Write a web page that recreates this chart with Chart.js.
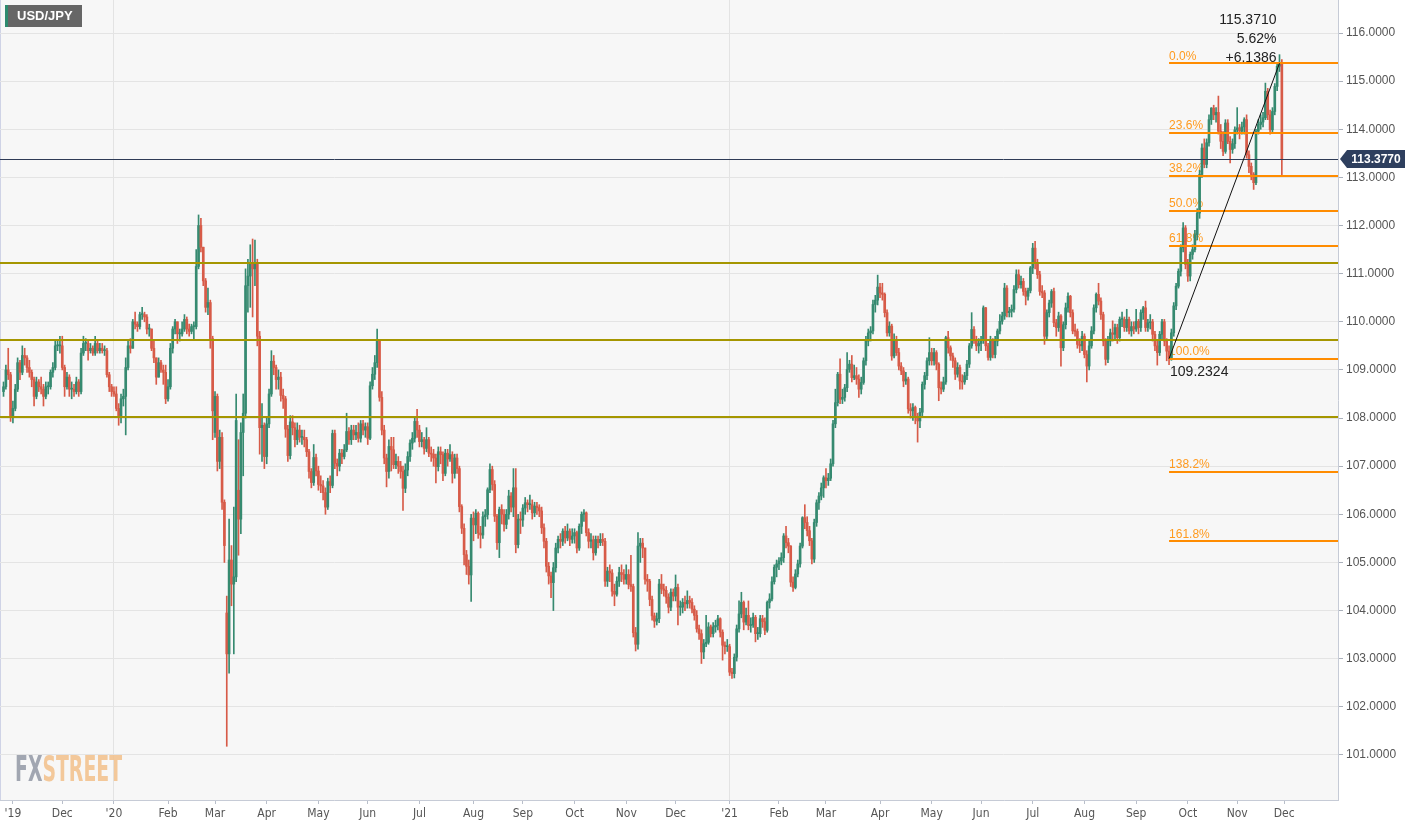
<!DOCTYPE html>
<html>
<head>
<meta charset="utf-8">
<title>USD/JPY</title>
<script src="https://cdn.jsdelivr.net/npm/chart.js@4.4.1/dist/chart.umd.min.js"></script>
<style>
  html, body { margin: 0; padding: 0; background: #fff; }
  #wrap { width: 1414px; height: 826px; }
</style>
</head>
<body>
<div id="wrap"><canvas id="myChart" width="1414" height="826"></canvas></div>
<script>
// daily candles, one per weekday, Oct 28 2019 .. Nov 26 2021
const closes = [
  108.65, 109.0, 108.9, 108.05, // Oct 19
  108.2, 108.6, 109.15, 108.95, 109.3, 109.25, 109.05, 108.95, 108.8, 108.45, 108.75, 108.65, 108.6, 108.45, 108.65, 108.65, 108.95, 109.05, 109.5, 109.5, 109.5,
  109.05, 108.65, 108.85, 108.6, 108.6, 108.55, 108.75, 108.55, 109.35, 109.55, 109.55, 109.4, 109.45, 109.35, 109.55, 109.4, 109.45, 109.4, 109.4, 108.9, 108.65, 108.55,
  108.5, 108.2, 108.05, 108.4, 108.45, 109.05, 109.5, 109.45, 110.0, 109.95, 109.9, 110.15, 110.15, 110.1, 109.85, 109.85, 109.45, 109.25, 108.85, 109.15, 109.0, 108.95, 108.4,
  108.65, 109.45, 109.85, 110.0, 109.75, 109.75, 109.85, 110.05, 109.85, 109.8, 109.9, 109.9, 111.15, 112.0, 111.55, 110.85, 110.3, 110.4, 109.65, 108.15,
  108.45, 107.1, 107.6, 106.25, 105.35, 103.1, 105.05, 104.55, 104.7, 107.95, 105.9, 107.7, 108.1, 110.75, 110.95, 111.2, 111.1, 111.2, 109.7, 107.8, 107.85, 107.2,
  107.88, 108.5, 109.18, 109.05, 108.8, 108.85, 108.47, 108.4, 107.77, 107.22, 107.92, 107.8, 107.55, 107.75, 107.6, 107.6, 107.55, 107.3, 106.89, 106.66, 107.18, 106.9,
  106.62, 106.59, 106.45, 106.15, 106.68, 106.6, 107.68, 107.06, 107.0, 107.27, 107.2, 107.34, 107.72, 107.55, 107.75, 107.65, 107.7, 107.58, 107.88, 107.75, 107.82,
  107.58, 108.67, 108.91, 109.15, 109.6, 108.43, 107.75, 107.17, 106.89, 107.41, 107.34, 107.03, 107.1, 107.0, 106.89, 106.54, 106.92, 107.2, 107.48, 107.58, 107.93, 107.75,
  107.51, 107.55, 107.37, 107.55, 107.27, 107.25, 107.17, 106.99, 107.3, 107.24, 106.85, 107.27, 107.15, 107.24, 106.85, 107.17, 106.95, 106.16, 105.71, 105.16, 104.92, 104.74, 105.92,
  105.78, 106.02, 105.61, 105.57, 105.95, 105.99, 106.51, 106.93, 106.62, 105.96, 105.41, 106.1, 106.0, 105.79, 106.0, 106.38, 106.15, 106.55, 105.37, 105.9, 105.88,
  106.13, 106.24, 106.2, 106.2, 106.03, 106.17, 106.14, 106.07, 105.72, 105.44, 104.92, 104.72, 104.58, 104.89, 105.3, 105.48, 105.44, 105.65, 105.51, 105.65, 105.48, 105.55,
  105.62, 105.3, 105.75, 106.0, 106.03, 105.62, 105.44, 105.47, 105.2, 105.48, 105.41, 105.48, 105.44, 104.61, 104.82, 104.78, 104.4, 104.34, 104.61, 104.79, 104.75, 104.65,
  104.75, 104.54, 104.5, 103.54, 103.3, 105.34, 105.4, 105.3, 104.65, 104.61, 104.23, 103.89, 103.78, 103.83, 104.55, 104.45, 104.42, 104.28, 104.07, 104.38, 104.3,
  104.48, 104.07, 104.07, 104.17, 104.14, 104.21, 104.17, 104.03, 103.9, 103.62, 103.52, 103.14, 103.31, 103.34, 103.66, 103.52, 103.66, 103.69, 103.83, 103.55, 103.28, 103.25, 103.25,
  102.72, 102.69, 103.03, 103.62, 103.93, 104.17, 103.76, 103.9, 103.69, 103.7, 103.86, 103.52, 103.52, 103.83, 103.77, 103.59, 104.17, 104.24, 104.6, 104.9, 104.97,
  105.03, 105.1, 105.55, 105.41, 105.34, 104.59, 104.48, 104.76, 104.97, 105.34, 105.93, 105.83, 105.66, 105.45, 105.07, 105.83, 106.24, 106.38, 106.55, 106.76,
  106.7, 106.75, 107.05, 107.88, 108.32, 108.91, 108.39, 108.43, 108.63, 109.01, 109.12, 108.84, 108.88, 108.81, 108.6, 108.74, 109.19, 109.6, 109.77, 109.81, 110.36, 110.45, 110.72,
  110.6, 110.57, 110.19, 109.77, 109.91, 109.29, 109.63, 109.36, 109.08, 108.98, 108.77, 108.81, 108.19, 108.15, 108.22, 108.01, 107.94, 108.12, 108.7, 108.88, 109.19, 109.36,
  109.19, 109.36, 109.12, 108.63, 108.6, 108.75, 109.67, 109.46, 109.29, 109.19, 108.91, 109.05, 108.77, 108.75, 108.88, 109.12, 109.5, 109.84, 109.63, 109.5, 109.55,
  109.63, 110.29, 109.5, 109.26, 109.6, 109.32, 109.6, 109.81, 110.01, 110.12, 110.7, 110.19, 110.22, 110.26, 110.67, 110.98, 110.77, 110.84, 110.63, 110.53, 110.65, 111.12,
  111.53, 111.22, 110.98, 110.63, 110.6, 109.7, 110.19, 110.39, 110.63, 109.98, 109.88, 110.12, 109.46, 109.94, 110.29, 110.53, 110.19, 109.81, 109.8, 109.53, 109.5, 109.7,
  109.32, 109.08, 109.5, 109.81, 110.29, 110.57, 110.43, 110.15, 109.6, 109.22, 109.6, 109.77, 109.74, 109.88, 109.67, 110.05, 110.05, 109.88, 110.05, 109.81, 109.9, 109.85,
  110.01, 109.88, 110.19, 110.29, 109.88, 109.98, 110.0, 109.74, 109.5, 109.36, 109.74, 110.0, 109.6, 109.39, 109.25, 109.77, 110.33, 110.74, 111.05, 111.54, 111.95, 111.19,
  110.95, 111.4, 111.5, 111.81, 112.26, 113.06, 113.61, 113.27, 113.72, 114.2, 114.44, 114.3, 114.35, 113.96, 113.75, 113.54, 114.13, 113.75, 113.58, 113.7, 113.99,
  114.03, 113.96, 114.05, 114.2, 113.47, 113.23, 113.06, 112.89, 113.96, 114.1, 114.15, 114.24, 114.79, 114.3, 113.99, 114.37, 114.89, 115.31, 115.37, 113.377
];
const highs = [
  108.75, 109.1, 109.45, 108.95,
  108.35, 108.7, 109.25, 109.2, 109.5, 109.45, 109.3, 109.2, 109.0, 108.85, 108.85, 108.8, 108.85, 108.7, 108.75, 108.75, 109.0, 109.15, 109.6, 109.6, 109.7,
  109.7, 109.1, 108.95, 108.9, 108.75, 108.7, 108.85, 108.8, 109.45, 109.7, 109.65, 109.6, 109.55, 109.5, 109.7, 109.6, 109.55, 109.55, 109.5, 109.45, 108.95, 108.7,
  108.65, 108.65, 108.3, 108.5, 108.6, 109.25, 109.6, 109.65, 110.05, 110.2, 110.0, 110.2, 110.3, 110.2, 110.15, 109.95, 109.85, 109.6, 109.2, 109.25, 109.2, 109.1, 109.1,
  108.8, 109.55, 109.9, 110.05, 110.0, 109.85, 110.0, 110.15, 110.1, 109.95, 109.95, 110.0, 111.5, 112.22, 112.15, 111.5, 110.9, 110.7, 110.45, 109.7,
  108.55, 108.5, 107.75, 107.7, 106.3, 104.3, 105.9, 105.35, 106.15, 108.5, 107.55, 107.9, 108.5, 111.1, 111.3, 111.6, 111.72, 111.7, 111.3, 109.8, 108.3, 107.9,
  108.0, 108.6, 109.4, 109.3, 109.1, 109.0, 108.95, 108.6, 108.45, 107.85, 108.05, 108.05, 107.9, 107.9, 107.85, 107.75, 107.75, 107.6, 107.35, 106.95, 107.45, 107.25,
  107.0, 106.8, 106.7, 106.55, 106.75, 106.8, 107.75, 107.75, 107.15, 107.35, 107.35, 107.45, 108.1, 107.8, 107.85, 107.85, 107.85, 107.9, 107.95, 107.95, 107.9,
  107.9, 108.75, 109.05, 109.3, 109.85, 109.6, 108.55, 107.85, 107.25, 107.55, 107.6, 107.6, 107.25, 107.2, 107.1, 107.0, 107.05, 107.3, 107.55, 107.7, 108.0, 108.18,
  107.85, 107.7, 107.6, 107.8, 107.6, 107.4, 107.35, 107.25, 107.4, 107.4, 107.3, 107.35, 107.35, 107.45, 107.3, 107.25, 107.25, 107.0, 106.2, 105.8, 105.25, 105.05, 106.0,
  106.05, 106.1, 106.05, 105.75, 106.05, 106.1, 106.55, 107.05, 107.0, 106.7, 106.0, 106.15, 106.2, 106.1, 106.1, 106.5, 106.45, 106.95, 106.95, 106.0, 106.05,
  106.2, 106.35, 106.3, 106.4, 106.3, 106.25, 106.25, 106.2, 106.15, 105.8, 105.5, 105.0, 104.8, 105.0, 105.4, 105.55, 105.6, 105.7, 105.75, 105.8, 105.7, 105.7,
  105.7, 105.65, 105.8, 106.05, 106.1, 106.05, 105.7, 105.6, 105.55, 105.55, 105.55, 105.6, 105.6, 105.5, 104.9, 104.95, 104.85, 104.55, 104.7, 104.9, 104.95, 104.85,
  104.95, 104.85, 105.15, 104.55, 103.65, 105.62, 105.5, 105.5, 105.3, 104.75, 104.65, 104.3, 103.95, 103.95, 104.65, 104.75, 104.55, 104.5, 104.35, 104.45, 104.45,
  104.74, 104.55, 104.2, 104.25, 104.3, 104.41, 104.3, 104.25, 104.1, 104.0, 103.7, 103.6, 103.4, 103.9, 103.75, 103.7, 103.75, 103.8, 103.9, 103.85, 103.6, 103.35, 103.4,
  103.3, 102.8, 103.1, 103.7, 104.2, 104.38, 104.2, 104.05, 104.2, 103.85, 103.95, 103.9, 103.65, 103.9, 103.9, 103.85, 104.2, 104.35, 104.7, 104.95, 105.05,
  105.1, 105.2, 105.6, 105.75, 105.5, 105.35, 104.7, 104.85, 105.05, 105.4, 105.95, 106.2, 105.95, 105.75, 105.5, 105.9, 106.3, 106.45, 106.65, 106.8,
  106.95, 106.85, 107.15, 107.95, 108.6, 108.95, 109.23, 108.6, 108.7, 109.36, 109.2, 109.3, 109.1, 109.05, 108.9, 108.85, 109.25, 109.7, 109.85, 109.9, 110.45, 110.55, 110.97,
  110.8, 110.8, 110.6, 110.25, 110.0, 109.95, 109.75, 109.7, 109.45, 109.15, 109.05, 108.95, 108.85, 108.3, 108.3, 108.25, 108.1, 108.2, 108.75, 108.95, 109.25, 109.67,
  109.45, 109.45, 109.4, 109.15, 108.75, 108.85, 109.7, 109.8, 109.5, 109.35, 109.25, 109.15, 109.1, 108.9, 108.95, 109.2, 109.55, 110.19, 109.9, 109.7, 109.65,
  109.7, 110.33, 110.3, 109.55, 109.7, 109.65, 109.7, 109.85, 110.15, 110.2, 110.8, 110.75, 110.3, 110.35, 110.75, 111.08, 111.08, 110.95, 110.9, 110.7, 110.7, 111.15,
  111.63, 111.67, 111.3, 111.05, 110.75, 110.65, 110.25, 110.45, 110.67, 110.7, 110.05, 110.2, 110.15, 110.0, 110.39, 110.6, 110.55, 110.25, 109.95, 109.85, 109.65, 109.8,
  109.75, 109.4, 109.6, 109.9, 110.35, 110.6, 110.8, 110.5, 110.2, 109.65, 109.7, 109.85, 110.02, 109.95, 109.95, 110.1, 110.2, 110.1, 110.26, 110.1, 110.0, 110.0,
  110.26, 110.05, 110.25, 110.32, 110.43, 110.05, 110.15, 110.05, 109.8, 109.6, 109.8, 110.05, 110.05, 109.65, 109.5, 109.85, 110.4, 110.8, 111.1, 111.6, 112.06, 112.0,
  111.3, 111.45, 111.6, 111.9, 112.35, 113.15, 113.7, 113.8, 113.8, 114.3, 114.45, 114.5, 114.45, 114.69, 114.1, 113.95, 114.2, 114.2, 113.85, 113.8, 114.05,
  114.45, 114.1, 114.15, 114.24, 114.3, 113.55, 113.3, 113.1, 114.0, 114.2, 114.3, 114.35, 114.96, 114.85, 114.4, 114.45, 114.95, 115.35, 115.55, 115.45
];
const lows = [
  108.45, 108.6, 108.8, 107.93,
  107.9, 108.15, 108.55, 108.8, 108.9, 109.1, 108.95, 108.85, 108.65, 108.25, 108.4, 108.55, 108.5, 108.25, 108.4, 108.5, 108.6, 108.85, 109.0, 109.4, 109.35,
  109.0, 108.45, 108.6, 108.45, 108.4, 108.45, 108.5, 108.45, 108.5, 109.3, 109.4, 109.2, 109.35, 109.3, 109.3, 109.35, 109.35, 109.35, 109.3, 108.85, 108.55, 108.45,
  108.45, 108.15, 107.85, 107.9, 108.25, 107.65, 109.0, 109.35, 109.45, 109.85, 109.8, 109.85, 110.05, 110.0, 109.75, 109.7, 109.4, 109.15, 108.7, 108.85, 108.95, 108.7, 108.3,
  108.35, 108.6, 109.35, 109.75, 109.55, 109.6, 109.7, 109.8, 109.75, 109.7, 109.75, 109.65, 109.85, 111.1, 111.45, 110.75, 110.2, 110.15, 109.45, 107.55,
  107.6, 106.9, 106.95, 106.1, 105.0, 101.18, 102.7, 104.1, 103.1, 104.6, 105.15, 105.6, 106.8, 108.0, 110.2, 110.3, 110.1, 110.75, 109.5, 107.25, 107.1, 106.95,
  107.05, 107.8, 108.45, 108.9, 108.6, 108.6, 108.35, 108.2, 107.6, 107.1, 107.15, 107.65, 107.4, 107.45, 107.5, 107.45, 107.4, 107.2, 106.75, 106.55, 106.6, 106.8,
  106.5, 106.45, 106.3, 106.0, 106.1, 106.45, 106.55, 106.95, 106.8, 106.9, 107.05, 107.15, 107.3, 107.45, 107.45, 107.55, 107.55, 107.5, 107.5, 107.65, 107.6,
  107.45, 107.55, 108.6, 108.8, 109.05, 108.35, 107.65, 107.05, 106.57, 106.75, 106.9, 106.95, 106.95, 106.85, 106.75, 106.08, 106.45, 106.8, 107.1, 107.35, 107.5, 107.6,
  107.4, 107.4, 107.25, 107.3, 107.2, 107.1, 107.0, 106.65, 106.9, 107.05, 106.7, 106.8, 107.0, 107.1, 106.65, 106.75, 106.85, 106.05, 105.6, 104.95, 104.75, 104.55, 104.19,
  105.45, 105.6, 105.5, 105.3, 105.5, 105.75, 105.9, 106.45, 106.5, 105.85, 105.27, 105.1, 105.8, 105.65, 105.7, 105.9, 106.05, 105.95, 105.2, 105.3, 105.6,
  105.75, 106.0, 106.05, 106.1, 105.9, 105.95, 106.0, 105.95, 105.6, 105.3, 104.8, 104.55, 104.27, 104.0, 104.8, 105.2, 105.3, 105.35, 105.4, 105.45, 105.35, 105.4,
  105.4, 105.2, 105.25, 105.6, 105.85, 105.55, 105.3, 105.3, 105.05, 105.15, 105.3, 105.35, 105.35, 104.5, 104.5, 104.6, 104.3, 104.1, 104.3, 104.5, 104.6, 104.55,
  104.55, 104.45, 104.4, 103.45, 103.16, 103.2, 105.0, 105.1, 104.55, 104.4, 104.1, 103.8, 103.65, 103.7, 103.75, 104.35, 104.3, 104.15, 103.95, 104.0, 104.2,
  104.2, 103.7, 103.9, 103.95, 104.0, 104.05, 104.05, 103.95, 103.8, 103.55, 103.4, 102.9, 103.0, 103.25, 103.3, 103.45, 103.45, 103.55, 103.6, 103.45, 102.97, 103.1, 103.15,
  102.65, 102.59, 102.6, 102.95, 103.55, 103.85, 103.6, 103.7, 103.6, 103.55, 103.65, 103.35, 103.4, 103.45, 103.65, 103.5, 103.55, 104.05, 104.2, 104.55, 104.7,
  104.85, 104.95, 105.0, 105.3, 105.2, 104.5, 104.4, 104.45, 104.7, 104.9, 105.3, 105.7, 105.55, 105.35, 104.97, 105.0, 105.75, 106.1, 106.3, 106.35,
  106.55, 106.6, 106.7, 107.0, 107.8, 108.25, 108.3, 108.3, 108.35, 108.55, 108.95, 108.75, 108.8, 108.7, 108.43, 108.5, 108.7, 109.1, 109.5, 109.6, 109.75, 110.2, 110.35,
  110.5, 110.45, 110.1, 109.7, 109.7, 109.2, 109.25, 109.3, 109.0, 108.9, 108.65, 108.7, 108.1, 108.0, 107.95, 107.88, 107.5, 107.8, 108.05, 108.6, 108.8, 109.1,
  109.1, 109.1, 109.0, 108.36, 108.5, 108.55, 108.7, 109.35, 109.2, 109.05, 108.8, 108.85, 108.6, 108.6, 108.7, 108.8, 109.05, 109.45, 109.55, 109.4, 109.35,
  109.4, 109.55, 109.4, 109.2, 109.2, 109.25, 109.25, 109.5, 109.75, 109.95, 110.05, 110.1, 110.1, 110.1, 110.2, 110.6, 110.7, 110.7, 110.55, 110.35, 110.45, 110.6,
  111.0, 111.1, 110.9, 110.55, 110.5, 109.53, 109.65, 110.1, 110.3, 109.9, 109.7, 109.8, 109.08, 109.4, 109.85, 110.2, 110.1, 109.75, 109.7, 109.45, 109.36, 109.4,
  109.25, 108.75, 109.0, 109.45, 109.75, 110.2, 110.35, 110.05, 109.5, 109.1, 109.15, 109.5, 109.6, 109.65, 109.55, 109.6, 109.9, 109.8, 109.8, 109.75, 109.7, 109.75,
  109.8, 109.75, 109.8, 110.05, 109.8, 109.8, 109.85, 109.6, 109.4, 109.1, 109.3, 109.65, 109.5, 109.19, 109.11, 109.2, 109.7, 110.25, 110.7, 110.95, 111.45, 111.1,
  110.84, 110.85, 111.3, 111.45, 111.7, 112.15, 113.0, 113.2, 113.2, 113.65, 114.1, 114.2, 114.15, 113.9, 113.6, 113.45, 113.5, 113.7, 113.3, 113.5, 113.6,
  113.9, 113.8, 113.9, 113.9, 113.4, 113.1, 112.95, 112.75, 112.85, 113.9, 114.0, 114.05, 114.2, 114.2, 113.9, 113.95, 114.3, 114.8, 115.2, 113.05
];
// open = previous close, except where the chart shows a gap
const firstOpen = 108.55;
const gapIdx = [90, 95, 100];
const gapOpens = [107.7, 103.95, 106.5];

// x axis month ticks (candle index) and labels
const tickIdx = [4, 25, 47, 70, 90, 112, 134, 155, 177, 200, 221, 243, 265, 286, 309, 330, 350, 373, 395, 416, 438, 460, 482, 504, 525, 545];
const tickLabels = ["'19", 'Dec', "'20", 'Feb', 'Mar', 'Apr', 'May', 'Jun', 'Jul', 'Aug', 'Sep', 'Oct', 'Nov', 'Dec', "'21", 'Feb', 'Mar', 'Apr', 'May', 'Jun', 'Jul', 'Aug', 'Sep', 'Oct', 'Nov', 'Dec'];
const yearIdx = [47, 309];
const yTicks = [101, 102, 103, 104, 105, 106, 107, 108, 109, 110, 111, 112, 113, 114, 115, 116];

// drawn levels
const srLevels = [111.22, 109.63, 108.02];
const lastPrice = 113.377;
const swingIdx = [496, 543];
const swingLow = 109.2324;
const swingHigh = 115.3710;
const fibRatios = [0, 0.236, 0.382, 0.5, 0.618, 1, 1.382, 1.618];
const fibLabels = ['0.0%', '23.6%', '38.2%', '50.0%', '61.8%', '100.0%', '138.2%', '161.8%'];

const upColor = '#368a70';
const downColor = '#d75b48';
const sansFont = '"Liberation Sans", Arial, sans-serif';
const narrowFont = '"Liberation Sans Narrow", "DejaVu Sans Condensed", Arial, sans-serif';

const n = Math.min(closes.length, highs.length, lows.length);
const opens = [];
for (let i = 0; i < n; i++) opens.push(i === 0 ? firstOpen : closes[i - 1]);
gapIdx.forEach((k, j) => { opens[k] = gapOpens[j]; });

const bodies = [], wicks = [], colors = [];
for (let i = 0; i < n; i++) {
  bodies.push({ x: i, y: [opens[i], closes[i]] });
  wicks.push({ x: i, y: [Math.min(lows[i], opens[i], closes[i]), Math.max(highs[i], opens[i], closes[i])] });
  colors.push(closes[i] >= opens[i] ? upColor : downColor);
}

function hline(ctx, x1, x2, y) {
  ctx.beginPath(); ctx.moveTo(x1, y); ctx.lineTo(x2, y); ctx.stroke();
}

const overlay = {
  id: 'overlay',
  beforeDraw(chart) {
    const { ctx, chartArea: a } = chart;
    ctx.save();
    ctx.fillStyle = '#f7f7f7';
    ctx.fillRect(a.left, a.top, a.right - a.left, a.bottom - a.top);
    ctx.strokeStyle = '#cfd3e6';
    ctx.lineWidth = 1;
    ctx.beginPath(); ctx.moveTo(a.left + 0.5, a.top); ctx.lineTo(a.left + 0.5, a.bottom); ctx.stroke();
    ctx.restore();
  },
  beforeDatasetsDraw(chart) {
    const { ctx, chartArea: a, scales: { x, y } } = chart;
    ctx.save();
    // watermark
    ctx.font = 'bold 36px ' + narrowFont;
    ctx.textBaseline = 'alphabetic';
    const wFX = ctx.measureText('FX').width, wST = ctx.measureText('STREET').width;
    const sx = 107 / (wFX + wST);
    ctx.translate(a.left + 15, a.top + 781);
    ctx.scale(sx, 1);
    ctx.globalAlpha = 0.85;
    ctx.fillStyle = '#9298a4';
    ctx.fillText('FX', 0, 0);
    ctx.fillStyle = '#f2c08a';
    ctx.fillText('STREET', wFX, 0);
    ctx.restore();

    // fib labels sit under the candles
    ctx.save();
    const fx = x.getPixelForValue(swingIdx[0]);
    ctx.font = '12px ' + sansFont;
    ctx.fillStyle = '#ff9a1e';
    ctx.textAlign = 'left';
    ctx.textBaseline = 'bottom';
    fibRatios.forEach((r, k) => {
      const v = swingHigh - r * (swingHigh - swingLow);
      ctx.fillText(fibLabels[k], fx, y.getPixelForValue(v) - 1);
    });
    ctx.restore();
  },
  afterDatasetsDraw(chart) {
    const { ctx, chartArea: a, scales: { x, y } } = chart;
    ctx.save();
    ctx.beginPath(); ctx.rect(a.left, a.top, a.right - a.left, a.bottom - a.top); ctx.clip();

    // support / resistance
    ctx.strokeStyle = '#a59600';
    ctx.lineWidth = 2;
    srLevels.forEach(v => hline(ctx, a.left, a.right, Math.round(y.getPixelForValue(v))));

    // last price line
    ctx.strokeStyle = '#2e3b56';
    ctx.lineWidth = 1;
    hline(ctx, a.left, a.right, Math.round(y.getPixelForValue(lastPrice)) + 0.5);

    // fibonacci levels
    const fx = x.getPixelForValue(swingIdx[0]);
    ctx.strokeStyle = '#ff8c00';
    ctx.lineWidth = 2;
    fibRatios.forEach(r => {
      const v = swingHigh - r * (swingHigh - swingLow);
      hline(ctx, fx, a.right, Math.round(y.getPixelForValue(v)));
    });

    // trend line low -> high
    const x1 = fx, y1 = y.getPixelForValue(swingLow);
    const x2 = x.getPixelForValue(swingIdx[1]), y2 = y.getPixelForValue(swingHigh);
    ctx.strokeStyle = '#111';
    ctx.lineWidth = 1;
    ctx.beginPath(); ctx.moveTo(x1, y1); ctx.lineTo(x2, y2); ctx.stroke();
    ctx.restore();

    ctx.save();
    ctx.font = '14px ' + sansFont;
    ctx.fillStyle = '#222';
    ctx.textBaseline = 'middle';
    ctx.textAlign = 'left';
    ctx.fillText(swingLow.toFixed(4), x1 + 1, y1 + 13);
    ctx.textAlign = 'right';
    const diff = swingHigh - swingLow;
    ctx.fillText(swingHigh.toFixed(4), x2 - 3, y2 - 43);
    ctx.fillText((diff / swingLow * 100).toFixed(2) + '%', x2 - 3, y2 - 24);
    ctx.fillText('+' + diff.toFixed(4), x2 - 3, y2 - 5);
    ctx.restore();
  },
  afterDraw(chart) {
    const { ctx, chartArea: a, scales: { y } } = chart;
    // last price tag
    const py = Math.round(y.getPixelForValue(lastPrice));
    ctx.save();
    ctx.fillStyle = '#2e3f5e';
    ctx.beginPath();
    ctx.moveTo(a.right + 2, py);
    ctx.lineTo(a.right + 9, py - 9);
    ctx.lineTo(a.right + 67, py - 9);
    ctx.lineTo(a.right + 67, py + 9);
    ctx.lineTo(a.right + 9, py + 9);
    ctx.closePath();
    ctx.fill();
    ctx.fillStyle = '#fff';
    ctx.font = 'bold 12px ' + sansFont;
    ctx.textAlign = 'center';
    ctx.textBaseline = 'middle';
    ctx.fillText(lastPrice.toFixed(4), a.right + 38, py + 0.5);
    ctx.restore();

    // title box
    ctx.save();
    ctx.fillStyle = '#666';
    ctx.fillRect(5, 5, 77, 22);
    ctx.fillStyle = '#2d8a6e';
    ctx.fillRect(5, 5, 3, 22);
    ctx.fillStyle = '#fff';
    ctx.font = 'bold 13px ' + sansFont;
    ctx.textBaseline = 'middle';
    ctx.fillText('USD/JPY', 17, 16.5);
    ctx.restore();
  }
};

const ctx = document.getElementById('myChart');
const myChart = new Chart(ctx, {
  type: 'bar',
  data: {
    datasets: [
      { data: wicks, backgroundColor: colors, barThickness: 1, grouped: false, order: 2 },
      { data: bodies, backgroundColor: colors, barThickness: 2, minBarLength: 1, grouped: false, order: 1 }
    ]
  },
  options: {
    responsive: false,
    devicePixelRatio: 1,
    animation: false,
    events: [],
    layout: { padding: 0 },
    plugins: { legend: { display: false }, tooltip: { enabled: false } },
    scales: {
      x: {
        type: 'linear',
        min: -1.5,
        max: 567.9,
        offset: false,
        grid: {
          offset: false,
          color: c => (c.tick && yearIdx.includes(c.tick.value)) ? '#e3e3e3' : 'rgba(0,0,0,0)',
          tickColor: '#b9bfca',
          tickLength: 4
        },
        border: { color: '#c6cbd6' },
        ticks: {
          autoSkip: false, maxRotation: 0, minRotation: 0, padding: 3,
          color: '#555', font: { family: narrowFont, size: 12 },
          callback: v => { const k = tickIdx.indexOf(v); return k >= 0 ? tickLabels[k] : ''; }
        },
        afterBuildTicks: s => { s.ticks = tickIdx.map(v => ({ value: v })); },
        afterFit: s => { s.height = 26; s.paddingLeft = 0; s.paddingRight = 0; }
      },
      y: {
        position: 'right',
        min: 100.064,
        max: 116.686,
        grid: { color: '#e4e4e4', tickColor: '#aab0bb', tickLength: 5 },
        border: { color: '#c6cbd6' },
        ticks: {
          padding: 3, color: '#555', font: { family: sansFont, size: 12 },
          callback: v => Number(v).toFixed(4)
        },
        afterBuildTicks: s => { s.ticks = yTicks.map(v => ({ value: v })); },
        afterFit: s => { s.width = 76; s.paddingTop = 0; s.paddingBottom = 0; }
      }
    }
  },
  plugins: [overlay]
});
</script>
</body>
</html>
